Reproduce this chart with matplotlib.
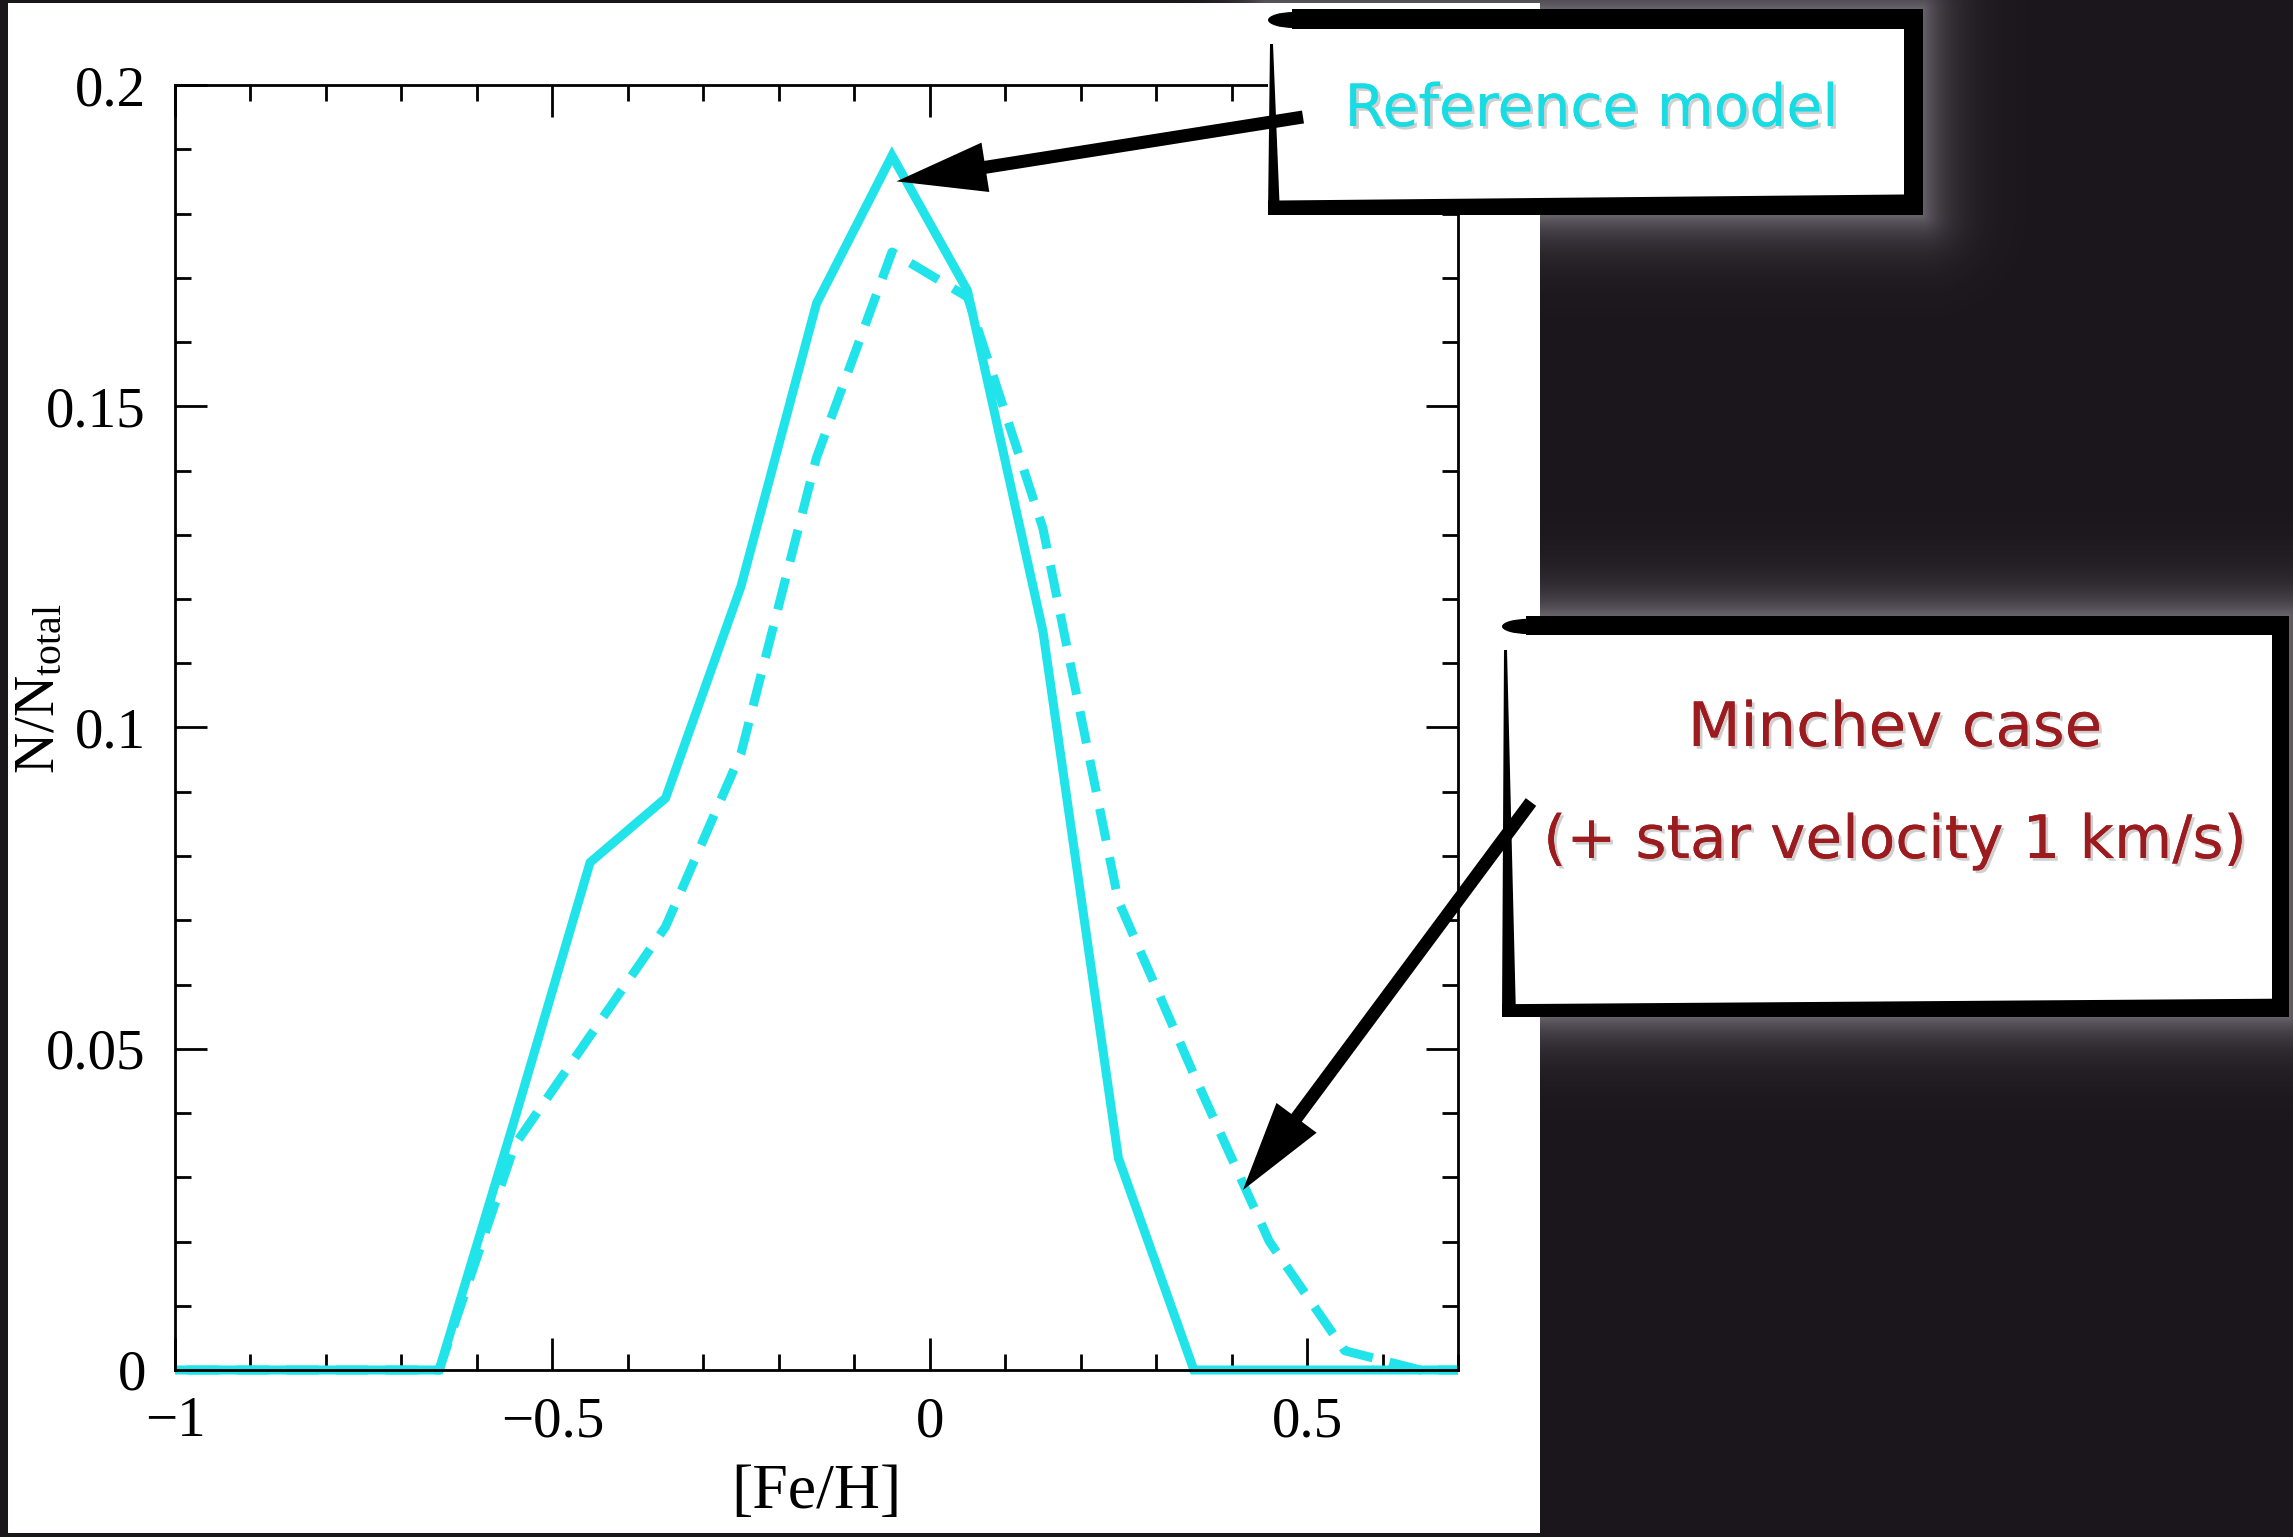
import numpy as np
import matplotlib
matplotlib.use("Agg")
import matplotlib.pyplot as plt
from matplotlib.ticker import MultipleLocator, FuncFormatter
from matplotlib.patches import Rectangle, Ellipse, Polygon
import matplotlib.patheffects as pe

# [Fe/H] bin centres and normalised counts
feh = [-1.05, -0.95, -0.85, -0.75, -0.65, -0.55, -0.45, -0.35, -0.25, -0.15,
       -0.05, 0.05, 0.15, 0.25, 0.35, 0.45, 0.55, 0.65, 0.75]
reference_model = [0, 0, 0, 0, 0, 0.039, 0.079, 0.089, 0.122, 0.166,
                   0.189, 0.168, 0.115, 0.033, 0, 0, 0, 0, 0]
minchev_case = [0, 0, 0, 0, 0, 0.035, 0.052, 0.069, 0.096, 0.142,
                0.174, 0.167, 0.131, 0.073, 0.046, 0.020, 0.003, 0, 0]

ref_label = "Reference model"
minchev_label = ["Minchev case", "(+ star velocity 1 km/s)"]
ref_arrow_tip = (-0.044, 0.185)
minchev_arrow_tip = (0.415, 0.028)

CYAN = "#20E4EA"
DARK = "#1B161C"
W, H = 2293, 1537

plt.rcParams["font.family"] = ["Liberation Serif", "DejaVu Serif"]

fig = plt.figure(figsize=(W / 100, H / 100), dpi=100)
fig.patch.set_facecolor(DARK)

# background layer in pixel coordinates: glow around the boxes + white slide panel
bg = fig.add_axes([0, 0, 1, 1], zorder=0)
bg.set_xlim(0, W)
bg.set_ylim(H, 0)
bg.axis("off")
bg.patch.set_alpha(0)

ref_box = (1268, 9, 1923, 215)
min_box = (1502, 616, 2289, 1017)

gx, gy = np.meshgrid(np.arange(0, W, 2) + 1, np.arange(0, H, 2) + 1)


def box_dist(b):
    dx = np.maximum(np.maximum(b[0] - gx, 0), gx - b[2])
    dy = np.maximum(np.maximum(b[1] - gy, 0), gy - b[3])
    return np.hypot(dx, dy)


glow = np.maximum(np.exp(-box_dist(ref_box) / 26), np.exp(-box_dist(min_box) / 26))
img = np.zeros(gx.shape + (4,))
img[..., 0] = 0.85
img[..., 1] = 0.83
img[..., 2] = 0.86
img[..., 3] = 0.42 * glow
bg.imshow(img, extent=(0, W, H, 0), interpolation="bilinear", aspect="auto")
bg.add_patch(Rectangle((8, 3), 1532, 1530, fc="white", ec="none"))

# main plot
ax = fig.add_axes([175 / W, 1 - 1370 / H, 1283 / W, 1285 / H], zorder=1)
ax.set_facecolor("white")
clip = Rectangle((0, -0.05), 1, 1.1, transform=ax.transAxes)
l1, = ax.plot(feh, reference_model, color=CYAN, lw=6.5, solid_joinstyle="miter")
l2, = ax.plot(feh, minchev_case, color=CYAN, lw=6.5, ls=(0, (3.6, 1.9)))
for ln in (l1, l2):
    ln.set_clip_path(clip)

ax.set_xlim(-1, 0.7)
ax.set_ylim(0, 0.2)
ax.xaxis.set_major_locator(MultipleLocator(0.5))
ax.xaxis.set_minor_locator(MultipleLocator(0.1))
ax.yaxis.set_major_locator(MultipleLocator(0.05))
ax.yaxis.set_minor_locator(MultipleLocator(0.01))
fmt = FuncFormatter(lambda v, p: f"{round(v, 3) + 0.0:g}".replace("-", "\u2212"))
ax.xaxis.set_major_formatter(fmt)
ax.yaxis.set_major_formatter(fmt)
for s in ax.spines.values():
    s.set_linewidth(2)
ax.tick_params(which="both", direction="in", top=True, right=True, width=2, colors="black")
ax.tick_params(which="major", length=23)
ax.tick_params(which="minor", length=11.5)
ax.tick_params(axis="x", pad=19, labelsize=41)
ax.tick_params(axis="y", pad=21, labelsize=41)
ax.set_xlabel("[Fe/H]", fontsize=46, labelpad=11)
ax.set_ylabel(r"$\mathregular{N/N_{total}}$", fontsize=41)
ax.yaxis.set_label_coords(-0.085, 0.53)

# overlay layer: boxes, texts, arrows (pixel coordinates, y down)
ov = fig.add_axes([0, 0, 1, 1], zorder=3)
ov.set_xlim(0, W)
ov.set_ylim(H, 0)
ov.axis("off")
ov.patch.set_alpha(0)


def sketch_box(b, top, right, bottom, left):
    x0, y0, x1, y1 = b
    ov.add_patch(Rectangle((x0, y0), x1 - x0, y1 - y0, fc="white", ec="none"))
    ov.add_patch(Rectangle((x0 + 24, y0), x1 - x0 - 24, top, fc="black", ec="none"))
    ov.add_patch(Ellipse((x0 + 26, y0 + top * 0.55), 52, top * 0.8, fc="black", ec="none"))
    ov.add_patch(Rectangle((x1 - right, y0), right, y1 - y0, fc="black", ec="none"))
    ov.add_patch(Polygon([(x0, y1 - bottom * 0.8), (x1, y1 - bottom * 1.15), (x1, y1), (x0, y1)],
                         closed=True, fc="black", ec="none"))
    ov.add_patch(Polygon([(x0 + 2, y0 + top + 15), (x0 + 5, y0 + top + 15), (x0 + left, y1), (x0, y1)],
                         closed=True, fc="black", ec="none"))


sketch_box(ref_box, 20, 19, 18, 12)
sketch_box(min_box, 19, 17, 16, 14)

shadow = [pe.withSimplePatchShadow(offset=(2, -2), shadow_rgbFace="#777777", alpha=0.35), pe.Normal()]
ov.text(1592, 126, ref_label, color="#18DCE4", fontsize=42, family="DejaVu Sans",
        ha="center", va="baseline", path_effects=shadow)
ov.text(1895, 746, minchev_label[0], color="#9B1B1E", fontsize=44, family="DejaVu Sans",
        ha="center", va="baseline", path_effects=shadow)
ov.text(1895, 858, minchev_label[1], color="#9B1B1E", fontsize=43, family="DejaVu Sans",
        ha="center", va="baseline", path_effects=shadow)


def to_overlay(pt):
    dx, dy = ax.transData.transform(pt)
    return dx, H - dy


for tail, tip_data in (((1303, 117), ref_arrow_tip), ((1531, 802), minchev_arrow_tip)):
    tx, ty = to_overlay(tip_data)
    ov.arrow(tail[0], tail[1], tx - tail[0], ty - tail[1], width=13, head_width=50,
             head_length=90, length_includes_head=True, fc="black", ec="none")

fig.savefig("out.png", dpi=100, facecolor=fig.get_facecolor())
